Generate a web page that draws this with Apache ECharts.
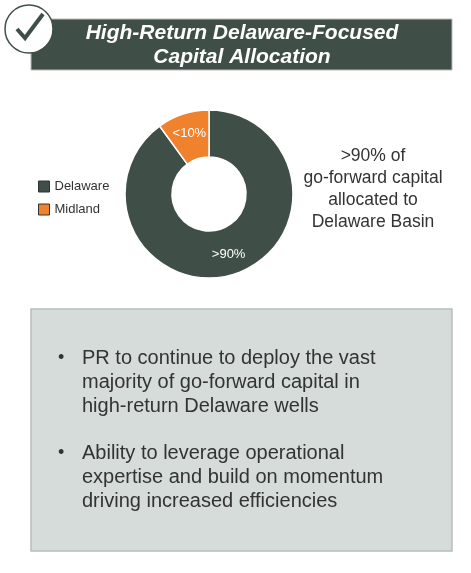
<!DOCTYPE html>
<html><head><meta charset="utf-8">
<script src="https://cdn.jsdelivr.net/npm/echarts@6/dist/echarts.min.js"></script>
<style>html,body{margin:0;padding:0;background:#fff}#c{width:471px;height:573px}</style>
</head><body><div id="c"></div>
<script>
const categories = ['Delaware', 'Midland'];
const values = [90, 10];
const sliceLabels = ['>90%', '<10%'];
const colors = ['#3f4f47', '#f0812d'];
const title = ['High-Return Delaware-Focused', 'Capital Allocation'];
const sideText = ['>90% of', 'go-forward capital', 'allocated to', 'Delaware Basin'];
const bullets = [
  ['PR to continue to deploy the vast', 'majority of go-forward capital in', 'high-return Delaware wells'],
  ['Ability to leverage operational', 'expertise and build on momentum', 'driving increased efficiencies']
];
const chart = echarts.init(document.getElementById('c'));
const font = 'Arial, "Liberation Sans", sans-serif';
const graphics = [
  {type:'rect', shape:{x:31,y:19,width:421,height:51}, style:{fill:'#3f4f47',stroke:'#b9bdbb',lineWidth:1}},
  {type:'circle', shape:{cx:29,cy:29,r:24}, style:{fill:'#fff',stroke:'#3f4f47',lineWidth:1.5}},
  {type:'polyline', shape:{points:[[17,29],[25,38],[43,14]]}, style:{stroke:'#3f4f47',lineWidth:4,fill:null}},
  {type:'text', x:242, y:45, style:{text:title.join('\n'), fill:'#fff', font:'italic bold 21px '+font, align:'center', verticalAlign:'middle', lineHeight:24}},
  {type:'text', x:373, y:189, style:{text:sideText.join('\n'), fill:'#333', font:'17.5px '+font, align:'center', verticalAlign:'middle', lineHeight:22}},
  {type:'rect', shape:{x:31,y:309,width:421,height:242}, style:{fill:'#d5dcd9',stroke:'#b9bdbb',lineWidth:1.5}}
];
let y = 358;
bullets.forEach(b => {
  graphics.push({type:'text', x:58, y:y, style:{text:'•', fill:'#333', font:'18px '+font, verticalAlign:'middle'}});
  graphics.push({type:'text', x:82, y:y-12, style:{text:b.join('\n'), fill:'#333', font:'20px '+font, lineHeight:24, verticalAlign:'top'}});
  y += 95;
});
chart.setOption({
  animation:false,
  color: colors,
  legend:{orient:'vertical', left:33, top:175, itemWidth:11, itemHeight:11, itemGap:10, icon:'rect',
    textStyle:{fontSize:13, color:'#333', fontFamily:font}, itemStyle:{borderColor:'#333',borderWidth:1}},
  graphic: graphics,
  series:[{type:'pie', center:[209,194], radius:[37,84], startAngle:90,
    itemStyle:{borderColor:'#fff', borderWidth:1.5},
    label:{position:'inside', color:'#fff', fontSize:13, fontFamily:font, formatter:p=>sliceLabels[p.dataIndex]},
    labelLine:{show:false},
    data: categories.map((c,i)=>({name:c, value:values[i]}))
  }]
});
</script></body></html>
